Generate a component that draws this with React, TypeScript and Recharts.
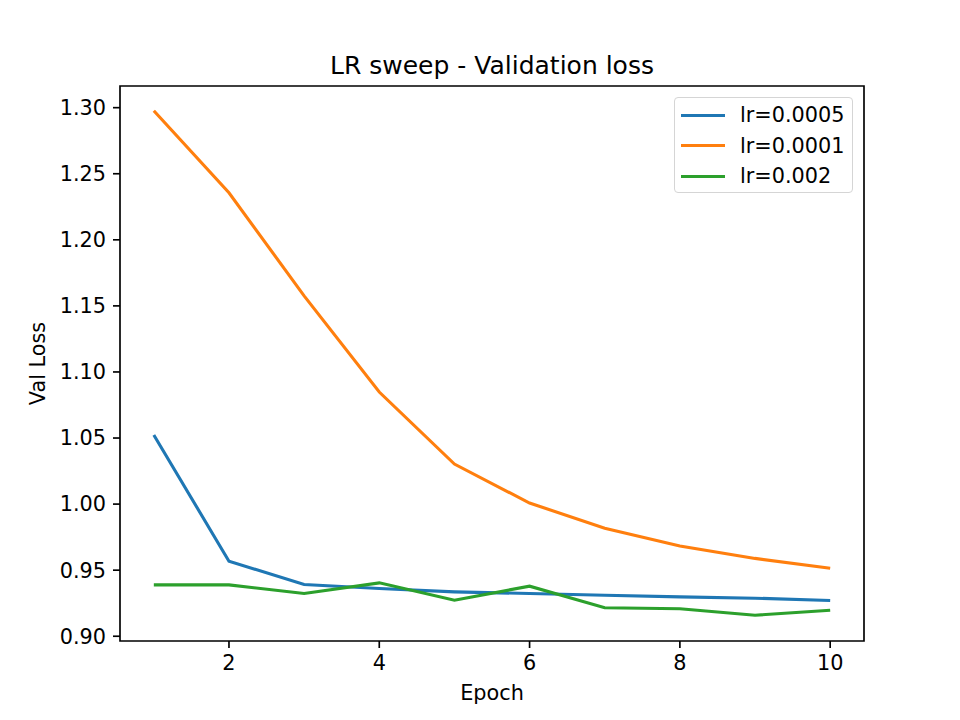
import { LineChart, Line, XAxis, YAxis, ReferenceArea } from "recharts";

const EPOCHS = [1, 2, 3, 4, 5, 6, 7, 8, 9, 10];
const LR_0005 = [1.0523, 0.9568, 0.9392, 0.9361, 0.9336, 0.9323, 0.931, 0.9298, 0.9288, 0.927];
const LR_0001 = [1.2977, 1.2356, 1.1576, 1.0848, 1.0303, 1.0008, 0.9818, 0.9683, 0.9589, 0.9514];
const LR_002 = [0.9389, 0.9389, 0.9323, 0.9404, 0.9273, 0.9379, 0.9216, 0.9208, 0.9159, 0.9197];

const X_TICKS = [2, 4, 6, 8, 10];
const Y_TICKS = [0.9, 0.95, 1.0, 1.05, 1.1, 1.15, 1.2, 1.25, 1.3];

const SERIES = [
  { key: "lr0005", name: "lr=0.0005", color: "#1f77b4" },
  { key: "lr0001", name: "lr=0.0001", color: "#ff7f0e" },
  { key: "lr002", name: "lr=0.002", color: "#2ca02c" },
];

const data = EPOCHS.map((epoch, i) => ({
  epoch,
  lr0005: LR_0005[i],
  lr0001: LR_0001[i],
  lr002: LR_002[i],
}));

const FONT = "'DejaVu Sans', sans-serif";
const X_DOMAIN: [number, number] = [0.55, 10.45];
const Y_DOMAIN: [number, number] = [0.8964, 1.3164];

export default function App() {
  const tick = { fill: "#000", fontSize: 20.8, fontFamily: FONT };

  return (
    <div
      style={{
        position: "absolute",
        left: 0,
        top: 0,
        width: 960,
        height: 720,
        background: "#fff",
        fontFamily: FONT,
      }}
    >
      <div
        style={{
          position: "absolute",
          top: 53,
          left: 120,
          width: 744,
          textAlign: "center",
          fontSize: 25,
          lineHeight: "25px",
          color: "#000",
          whiteSpace: "nowrap",
        }}
      >
        LR sweep - Validation loss
      </div>

      <LineChart
        width={960}
        height={720}
        data={data}
        margin={{ top: 86, right: 96, bottom: 20, left: 0 }}
      >
        <XAxis
          dataKey="epoch"
          type="number"
          domain={X_DOMAIN}
          ticks={X_TICKS}
          allowDataOverflow
          height={59}
          tick={tick}
          tickSize={7}
          tickMargin={7}
          tickLine={{ stroke: "#000", strokeWidth: 1.67 }}
          axisLine={false}
          label={{
            value: "Epoch",
            position: "insideBottom",
            offset: 0,
            fill: "#000",
            fontSize: 20.8,
            fontFamily: FONT,
          }}
        />
        <YAxis
          type="number"
          domain={Y_DOMAIN}
          ticks={Y_TICKS}
          allowDataOverflow
          width={120}
          tick={tick}
          tickSize={7}
          tickMargin={7}
          tickLine={{ stroke: "#000", strokeWidth: 1.67 }}
          axisLine={false}
          tickFormatter={(v: number) => v.toFixed(2)}
          label={() => (
            <text
              x={38}
              y={363.5}
              dy="0.35em"
              transform="rotate(-90, 38, 363.5)"
              textAnchor="middle"
              fill="#000"
              fontSize={20.8}
              fontFamily={FONT}
            >
              Val Loss
            </text>
          )}
        />
        {SERIES.map((s) => (
          <Line
            key={s.key}
            dataKey={s.key}
            name={s.name}
            type="linear"
            stroke={s.color}
            strokeWidth={3.1}
            dot={false}
            activeDot={false}
            isAnimationActive={false}
          />
        ))}
        <ReferenceArea
          x1={X_DOMAIN[0]}
          x2={X_DOMAIN[1]}
          y1={Y_DOMAIN[0]}
          y2={Y_DOMAIN[1]}
          fill="none"
          fillOpacity={0}
          stroke="#000"
          strokeWidth={1.67}
          ifOverflow="visible"
        />
      </LineChart>

      <div
        style={{
          position: "absolute",
          left: 674,
          top: 97,
          width: 179,
          height: 96,
          boxSizing: "border-box",
          border: "1.67px solid #d5d5d5",
          borderRadius: 4,
          background: "rgba(255,255,255,0.8)",
          paddingTop: 2,
        }}
      >
        {SERIES.map((s) => (
          <div
            key={s.key}
            style={{
              display: "flex",
              alignItems: "center",
              height: 30.5,
              fontSize: 20.8,
              color: "#000",
              whiteSpace: "nowrap",
            }}
          >
            <span
              style={{
                display: "inline-block",
                marginLeft: 6,
                width: 44,
                height: 3.1,
                background: s.color,
              }}
            />
            <span style={{ marginLeft: 15 }}>{s.name}</span>
          </div>
        ))}
      </div>
    </div>
  );
}
